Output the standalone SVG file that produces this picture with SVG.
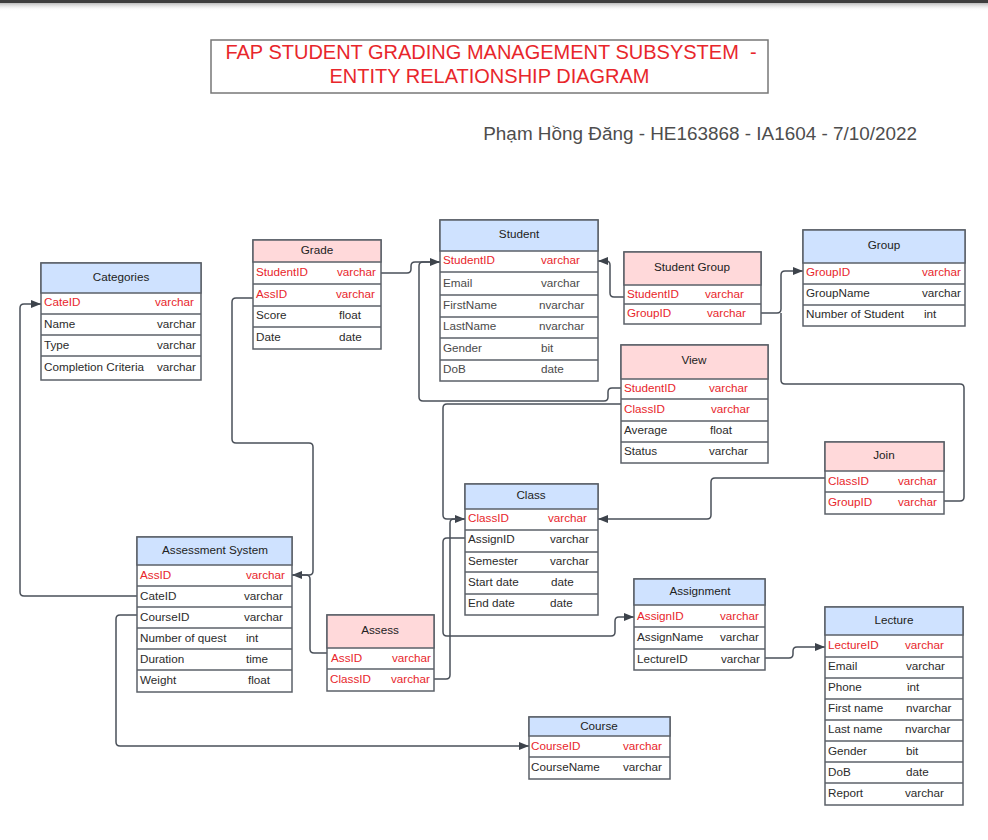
<svg xmlns="http://www.w3.org/2000/svg" width="988" height="840" viewBox="0 0 988 840">
<defs>
<linearGradient id="sh" x1="0" y1="0" x2="0" y2="1"><stop offset="0" stop-color="#bbb"/><stop offset="1" stop-color="#fff" stop-opacity="0"/></linearGradient>
<marker id="a" markerWidth="10" markerHeight="8" refX="10" refY="4" orient="auto" markerUnits="userSpaceOnUse"><path d="M0,0 L10,4 L0,8 z" fill="#3d434b"/></marker>
<style>
.box{fill:#fff;stroke:#5b6068;stroke-width:1.5}
.hb{fill:#cfe2ff;stroke:#5b6068;stroke-width:1.5}
.hp{fill:#ffd9da;stroke:#5b6068;stroke-width:1.5}
.sep{stroke:#5b6068;stroke-width:1.5}
text{font-family:"Liberation Sans",Arial,sans-serif;font-size:11.7px;fill:#2b2b2b}
.r{fill:#e8262b}
.h{text-anchor:middle;fill:#222}
.ln{fill:none;stroke:#4a5059;stroke-width:1.5}
.arr{marker-end:url(#a)}
</style>
</defs>
<rect x="0" y="0" width="988" height="840" fill="#fff"/>
<rect x="0" y="0" width="988" height="3" fill="#3e3e3e"/>
<rect x="0" y="3" width="988" height="8" fill="url(#sh)"/>

<g id="title">
<rect x="211" y="40" width="557" height="53" fill="#fff" stroke="#777" stroke-width="1.5"/>
<text x="491" y="59" text-anchor="middle" style="font-size:20px;fill:#e8262b;white-space:pre">FAP STUDENT GRADING MANAGEMENT SUBSYSTEM  -</text>
<text x="489.5" y="83" text-anchor="middle" style="font-size:20px;fill:#e8262b">ENTITY RELATIONSHIP DIAGRAM</text>
</g>
<g id="author">
<text x="917" y="140" text-anchor="end" style="font-size:18.9px;fill:#4d4d4d">Phạm Hồng Đăng - HE163868 - IA1604 - 7/10/2022</text>
</g>

<g id="connectors">
<path class="ln" d="M381,273 H407 Q411,273 411,269 V266 Q411,262 415,262 H440"/>
<path class="ln arr" d="M621,388 H612 Q608,388 608,392 V397 Q608,401 604,401 H423 Q419,401 419,397 V266 Q419,262 423,262 H440"/>
<path class="ln arr" d="M624,297 H614 Q610,297 610,293 V265 Q610,261 606,261 H598"/>
<path class="ln arr" d="M761,313 H777 Q781,313 781,309 V275 Q781,271 785,271 H803"/>
<path class="ln" d="M944,501 H960 Q964,501 964,497 V388 Q964,384 960,384 H785 Q781,384 781,380 V313"/>
<path class="ln arr" d="M825,478 H715 Q711,478 711,482 V515 Q711,519 707,519 H598"/>
<path class="ln arr" d="M621,404 H447 Q443,404 443,408 V515 Q443,519 447,519 H465"/>
<path class="ln" d="M434,679 H446 Q450,679 450,675 V523 Q450,519 454,519 H465"/>
<path class="ln arr" d="M465,538 H447 Q443,538 443,542 V632 Q443,636 447,636 H611 Q615,636 615,632 V621 Q615,617 619,617 H634"/>
<path class="ln arr" d="M765,658 H789 Q793,658 793,654 V651 Q793,647 797,647 H825"/>
<path class="ln arr" d="M137,596 H24 Q20,596 20,592 V308 Q20,304 24,304 H41"/>
<path class="ln arr" d="M253,298 H236 Q232,298 232,302 V439 Q232,443 236,443 H309 Q313,443 313,447 V571 Q313,575 309,575 H292"/>
<path class="ln" d="M327,653 H314 Q310,653 310,649 V579 Q310,575 306,575 H292"/>
<path class="ln arr" d="M137,615 H120 Q116,615 116,619 V742 Q116,746 120,746 H529"/>
</g>

<g id="categories">
<rect class="box" x="41" y="263" width="160" height="117"/>
<rect class="hb" x="41" y="263" width="160" height="30"/>
<text class="h" x="121" y="281">Categories</text>
<line class="sep" x1="41" y1="314" x2="201" y2="314"/>
<line class="sep" x1="41" y1="335" x2="201" y2="335"/>
<line class="sep" x1="41" y1="356" x2="201" y2="356"/>
<text class="r" x="44" y="306">CateID</text><text class="r" x="155" y="306">varchar</text>
<text x="44" y="328">Name</text><text x="157" y="328">varchar</text>
<text x="44" y="349">Type</text><text x="157" y="349">varchar</text>
<text x="44" y="371">Completion Criteria</text><text x="157" y="371">varchar</text>
</g>

<g id="grade">
<rect class="box" x="253" y="240" width="128" height="109"/>
<rect class="hp" x="253" y="240" width="128" height="22"/>
<text class="h" x="317" y="254">Grade</text>
<line class="sep" x1="253" y1="284" x2="381" y2="284"/>
<line class="sep" x1="253" y1="306" x2="381" y2="306"/>
<line class="sep" x1="253" y1="327" x2="381" y2="327"/>
<text class="r" x="256" y="276">StudentID</text><text class="r" x="337" y="276">varchar</text>
<text class="r" x="256" y="298">AssID</text><text class="r" x="336" y="298">varchar</text>
<text x="256" y="319">Score</text><text x="339" y="319">float</text>
<text x="256" y="341">Date</text><text x="339" y="341">date</text>
</g>

<g id="student">
<rect class="box" x="440" y="220" width="158" height="161"/>
<rect class="hb" x="440" y="220" width="158" height="31"/>
<text class="h" x="519" y="238">Student</text>
<line class="sep" x1="440" y1="272" x2="598" y2="272"/>
<line class="sep" x1="440" y1="295" x2="598" y2="295"/>
<line class="sep" x1="440" y1="317" x2="598" y2="317"/>
<line class="sep" x1="440" y1="338" x2="598" y2="338"/>
<line class="sep" x1="440" y1="360" x2="598" y2="360"/>
<text class="r" x="443" y="264">StudentID</text><text class="r" x="541" y="264">varchar</text>
<text x="443" y="287" style="fill:#4a4a4a">Email</text><text x="541" y="287" style="fill:#4a4a4a">varchar</text>
<text x="443" y="309" style="fill:#4a4a4a">FirstName</text><text x="539" y="309" style="fill:#4a4a4a">nvarchar</text>
<text x="443" y="330" style="fill:#4a4a4a">LastName</text><text x="539" y="330" style="fill:#4a4a4a">nvarchar</text>
<text x="443" y="352" style="fill:#4a4a4a">Gender</text><text x="541" y="352" style="fill:#4a4a4a">bit</text>
<text x="443" y="373" style="fill:#4a4a4a">DoB</text><text x="541" y="373" style="fill:#4a4a4a">date</text>
</g>

<g id="student-group">
<rect class="box" x="624" y="252" width="137" height="72"/>
<rect class="hp" x="624" y="252" width="137" height="33"/>
<text class="h" x="692" y="271">Student Group</text>
<line class="sep" x1="624" y1="304" x2="761" y2="304"/>
<text class="r" x="627" y="298">StudentID</text><text class="r" x="705" y="298">varchar</text>
<text class="r" x="627" y="317">GroupID</text><text class="r" x="707" y="317">varchar</text>
</g>

<g id="group">
<rect class="box" x="803" y="230" width="162" height="96"/>
<rect class="hb" x="803" y="230" width="162" height="33"/>
<text class="h" x="884" y="249">Group</text>
<line class="sep" x1="803" y1="284" x2="965" y2="284"/>
<line class="sep" x1="803" y1="305" x2="965" y2="305"/>
<text class="r" x="806" y="276">GroupID</text><text class="r" x="922" y="276">varchar</text>
<text x="806" y="297">GroupName</text><text x="922" y="297">varchar</text>
<text x="806" y="318">Number of Student</text><text x="924" y="318">int</text>
</g>

<g id="view">
<rect class="box" x="621" y="345" width="147" height="118"/>
<rect class="hp" x="621" y="345" width="147" height="34"/>
<text class="h" x="694" y="364">View</text>
<line class="sep" x1="621" y1="399" x2="768" y2="399"/>
<line class="sep" x1="621" y1="421" x2="768" y2="421"/>
<line class="sep" x1="621" y1="442" x2="768" y2="442"/>
<text class="r" x="624" y="392">StudentID</text><text class="r" x="709" y="392">varchar</text>
<text class="r" x="624" y="413">ClassID</text><text class="r" x="711" y="413">varchar</text>
<text x="624" y="434">Average</text><text x="710" y="434">float</text>
<text x="624" y="455">Status</text><text x="709" y="455">varchar</text>
</g>

<g id="join">
<rect class="box" x="825" y="442" width="119" height="72"/>
<rect class="hp" x="825" y="442" width="119" height="29"/>
<text class="h" x="884" y="459">Join</text>
<line class="sep" x1="825" y1="492" x2="944" y2="492"/>
<text class="r" x="828" y="485">ClassID</text><text class="r" x="898" y="485">varchar</text>
<text class="r" x="828" y="506">GroupID</text><text class="r" x="898" y="506">varchar</text>
</g>

<g id="class">
<rect class="box" x="465" y="484" width="133" height="131"/>
<rect class="hb" x="465" y="484" width="133" height="25"/>
<text class="h" x="531" y="499">Class</text>
<line class="sep" x1="465" y1="530" x2="598" y2="530"/>
<line class="sep" x1="465" y1="552" x2="598" y2="552"/>
<line class="sep" x1="465" y1="572" x2="598" y2="572"/>
<line class="sep" x1="465" y1="594" x2="598" y2="594"/>
<text class="r" x="468" y="522">ClassID</text><text class="r" x="548" y="522">varchar</text>
<text x="468" y="543">AssignID</text><text x="550" y="543">varchar</text>
<text x="468" y="565">Semester</text><text x="550" y="565">varchar</text>
<text x="468" y="586">Start date</text><text x="551" y="586">date</text>
<text x="468" y="607">End date</text><text x="550" y="607">date</text>
</g>

<g id="assignment">
<rect class="box" x="634" y="579" width="131" height="91"/>
<rect class="hb" x="634" y="579" width="131" height="26"/>
<text class="h" x="700" y="595">Assignment</text>
<line class="sep" x1="634" y1="627" x2="765" y2="627"/>
<line class="sep" x1="634" y1="649" x2="765" y2="649"/>
<text class="r" x="637" y="620">AssignID</text><text class="r" x="720" y="620">varchar</text>
<text x="637" y="641">AssignName</text><text x="720" y="641">varchar</text>
<text x="637" y="663">LectureID</text><text x="721" y="663">varchar</text>
</g>

<g id="lecture">
<rect class="box" x="825" y="607" width="138" height="198"/>
<rect class="hb" x="825" y="607" width="138" height="28"/>
<text class="h" x="894" y="624">Lecture</text>
<line class="sep" x1="825" y1="657" x2="963" y2="657"/>
<line class="sep" x1="825" y1="678" x2="963" y2="678"/>
<line class="sep" x1="825" y1="699" x2="963" y2="699"/>
<line class="sep" x1="825" y1="720" x2="963" y2="720"/>
<line class="sep" x1="825" y1="741" x2="963" y2="741"/>
<line class="sep" x1="825" y1="762" x2="963" y2="762"/>
<line class="sep" x1="825" y1="783" x2="963" y2="783"/>
<text class="r" x="828" y="649">LectureID</text><text class="r" x="905" y="649">varchar</text>
<text x="828" y="670">Email</text><text x="906" y="670">varchar</text>
<text x="828" y="691">Phone</text><text x="907" y="691">int</text>
<text x="828" y="712">First name</text><text x="906" y="712">nvarchar</text>
<text x="828" y="733">Last name</text><text x="905" y="733">nvarchar</text>
<text x="828" y="755">Gender</text><text x="906" y="755">bit</text>
<text x="828" y="776">DoB</text><text x="906" y="776">date</text>
<text x="828" y="797">Report</text><text x="905" y="797">varchar</text>
</g>

<g id="course">
<rect class="box" x="529" y="717" width="141" height="62"/>
<rect class="hb" x="529" y="717" width="141" height="19"/>
<text class="h" x="599" y="730">Course</text>
<line class="sep" x1="529" y1="757" x2="670" y2="757"/>
<text class="r" x="531" y="750">CourseID</text><text class="r" x="623" y="750">varchar</text>
<text x="531" y="771">CourseName</text><text x="623" y="771">varchar</text>
</g>

<g id="assessment-system">
<rect class="box" x="137" y="537" width="155" height="155"/>
<rect class="hb" x="137" y="537" width="155" height="28"/>
<text class="h" x="215" y="554">Assessment System</text>
<line class="sep" x1="137" y1="586" x2="292" y2="586"/>
<line class="sep" x1="137" y1="607" x2="292" y2="607"/>
<line class="sep" x1="137" y1="628" x2="292" y2="628"/>
<line class="sep" x1="137" y1="649" x2="292" y2="649"/>
<line class="sep" x1="137" y1="670" x2="292" y2="670"/>
<text class="r" x="140" y="579">AssID</text><text class="r" x="246" y="579">varchar</text>
<text x="140" y="600">CateID</text><text x="244" y="600">varchar</text>
<text x="140" y="621">CourseID</text><text x="244" y="621">varchar</text>
<text x="140" y="642">Number of quest</text><text x="246" y="642">int</text>
<text x="140" y="663">Duration</text><text x="246" y="663">time</text>
<text x="140" y="684">Weight</text><text x="248" y="684">float</text>
</g>

<g id="assess">
<rect class="box" x="327" y="615" width="107" height="76"/>
<rect class="hp" x="327" y="615" width="107" height="33"/>
<text class="h" x="380" y="634">Assess</text>
<line class="sep" x1="327" y1="669" x2="434" y2="669"/>
<text class="r" x="331" y="662">AssID</text><text class="r" x="392" y="662">varchar</text>
<text class="r" x="330" y="683">ClassID</text><text class="r" x="391" y="683">varchar</text>
</g>
</svg>
